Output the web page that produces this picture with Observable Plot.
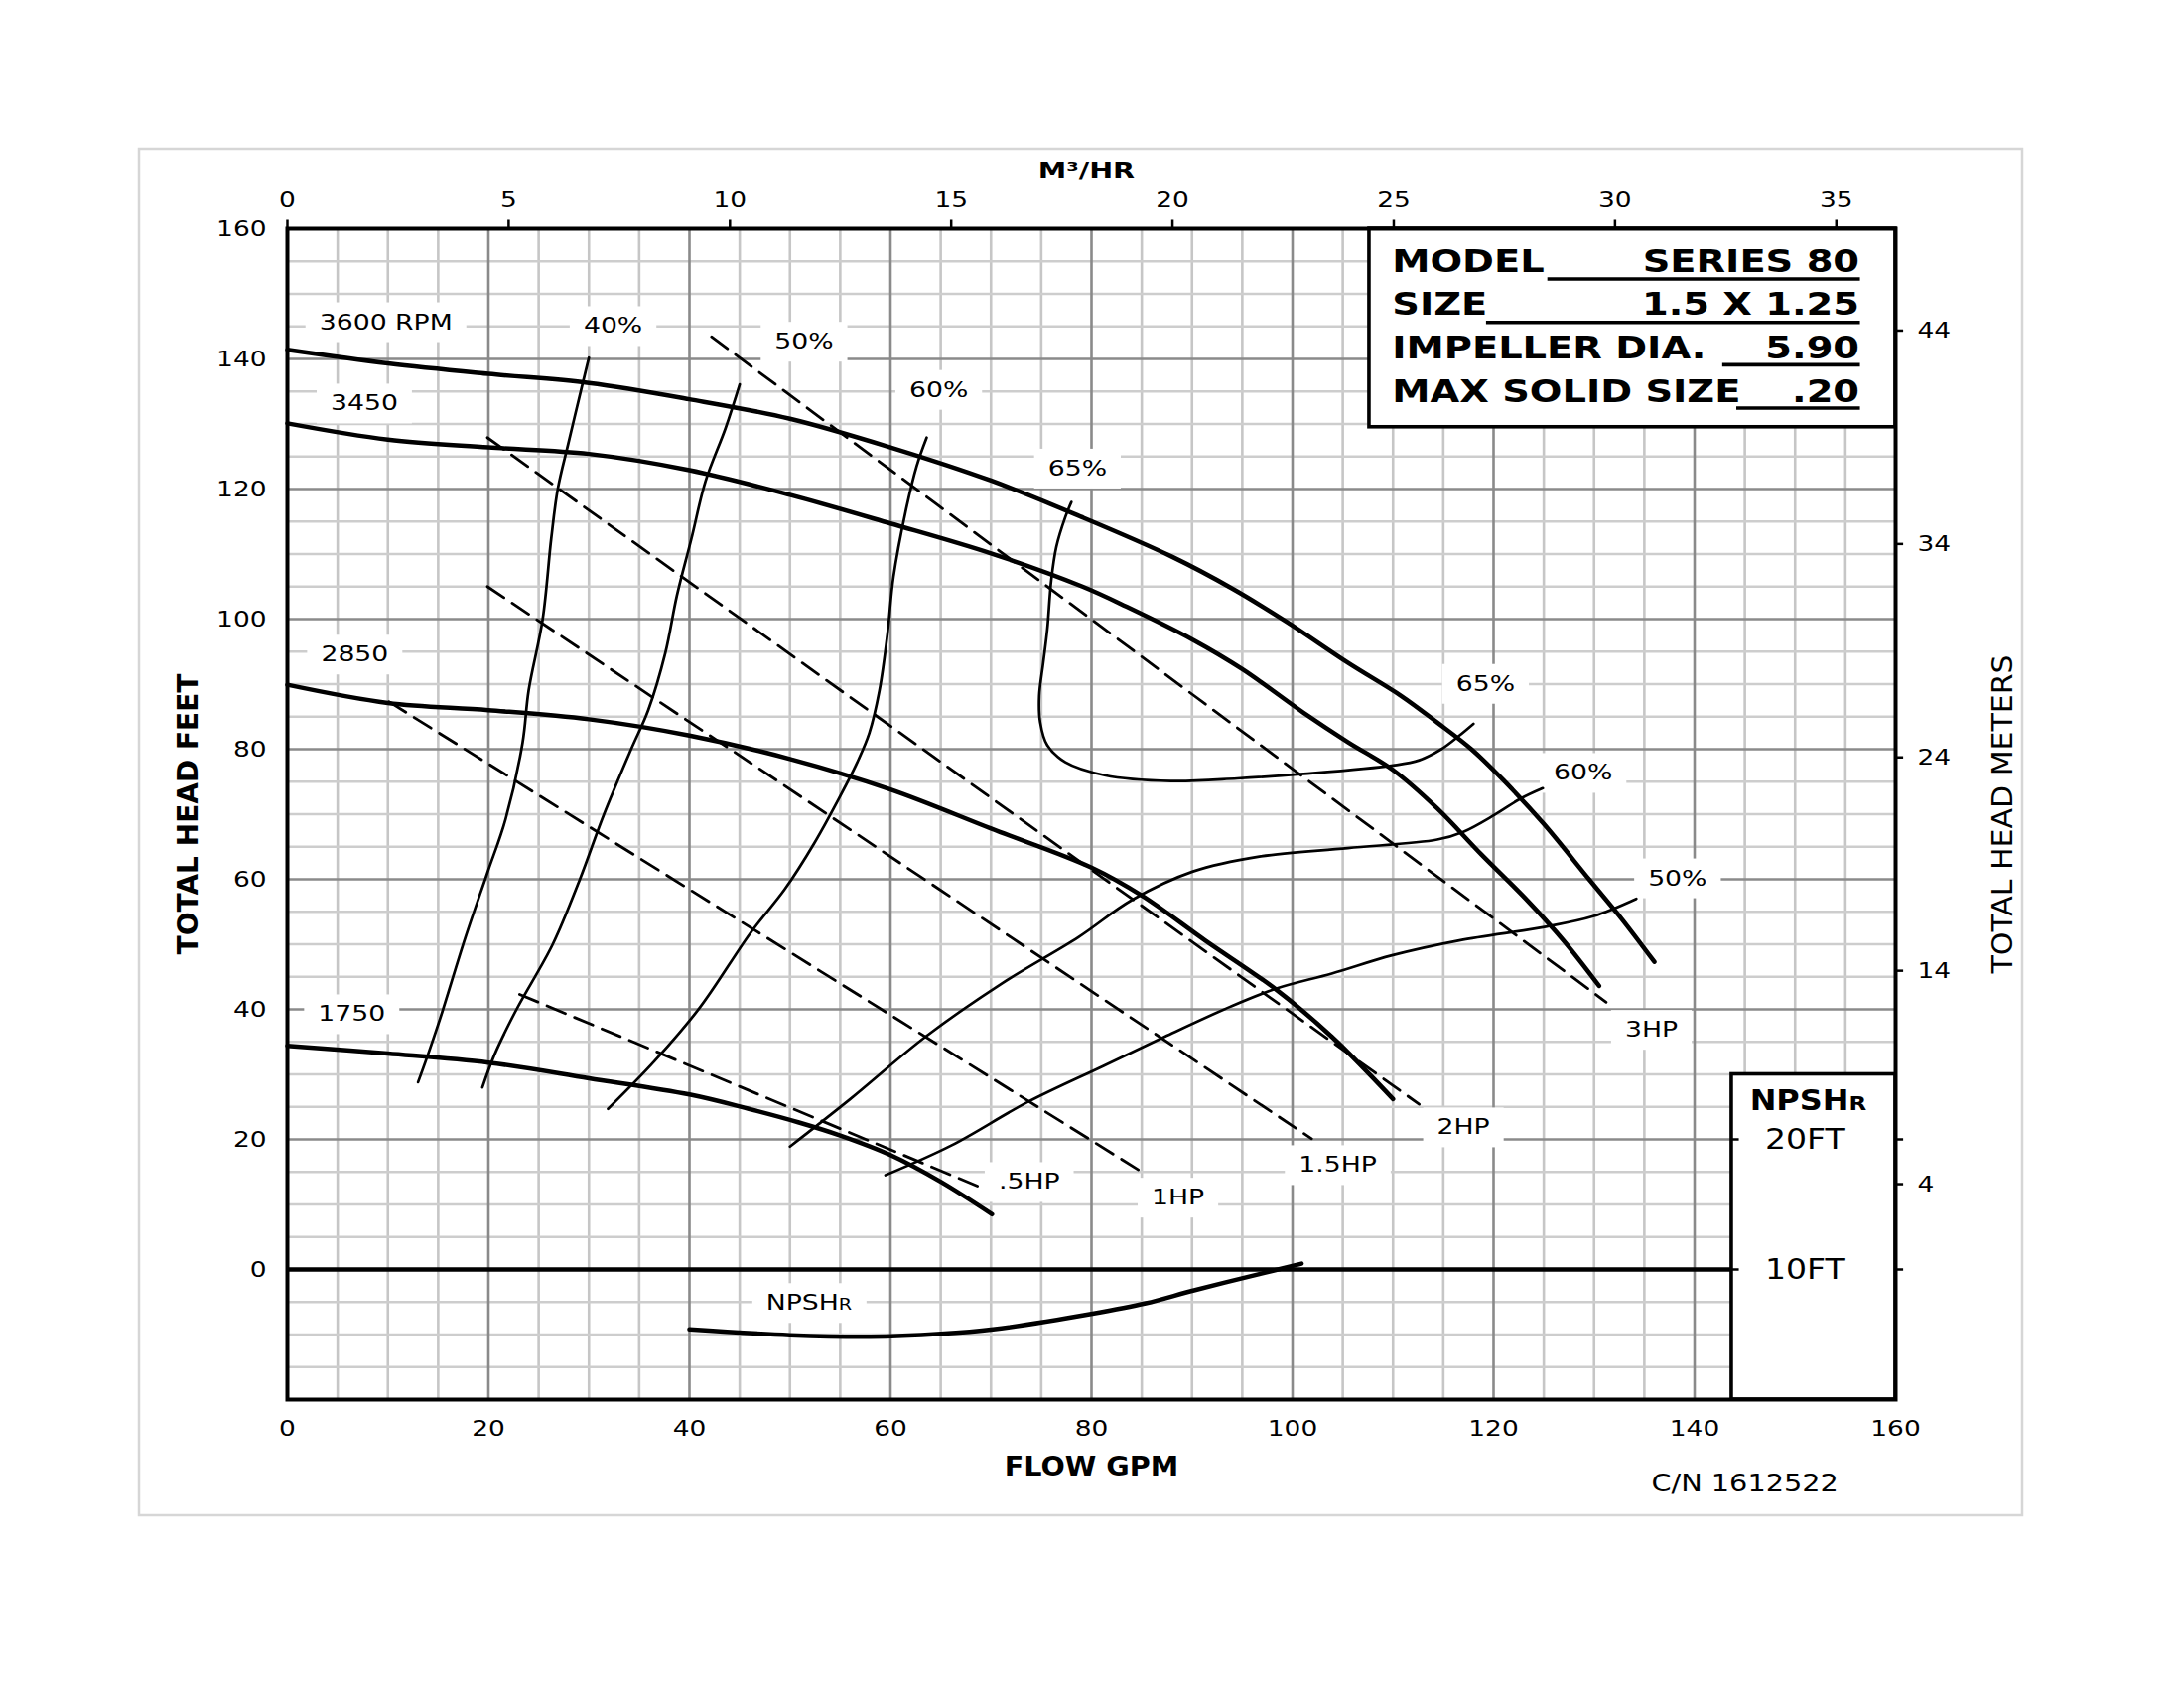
<!DOCTYPE html>
<html><head><meta charset="utf-8">
<script src="https://cdn.jsdelivr.net/npm/d3@7"></script>
<script src="https://cdn.jsdelivr.net/npm/@observablehq/plot@0.6"></script>
<style>html,body{margin:0;padding:0;background:#fff;} #chart{width:2200px;height:1700px;}</style>
</head><body><div id="chart"></div>
<script>
// ---- unit conversions (secondary axes)
const GPM_PER_M3H = 4.40287;
const FT_PER_M = 3.28084;

// ---- tick labels
const gpmTicks = [0,20,40,60,80,100,120,140,160];
const feetTicks = [0,20,40,60,80,100,120,140,160];
const m3hTicks = [0,5,10,15,20,25,30,35];
const meterTicks = [4,14,24,34,44];
const npshTicks = [{label:"20FT", npsh:20},{label:"10FT", npsh:10}];

// ---- head curves [GPM, feet]
const rpm3600 = [[0,141.4],[10,139.3],[20,137.7],[30,136.3],[40,133.8],[50,130.8],[60,126.4],[70,121.3],[79,115.7],[88,109.6],[94,104.7],[99.4,99.6],[105.5,93.3],[110.8,88.2],[114.4,84.1],[117.8,80],[121,75.2],[125,68.5],[129.5,60],[132.7,54],[136,47.3]];
const rpm3450 = [[0,130.1],[10,127.6],[20,126.4],[30,125.4],[40,122.9],[50,119.1],[60,114.7],[70,110.1],[79.1,105],[83.5,101.9],[90.1,96.8],[95,92.3],[101.1,85.6],[105.5,81.1],[110,76.8],[114.4,70.9],[118.8,63.8],[123.2,57],[127,50.5],[130.5,43.6]];
const rpm2850 = [[0,89.9],[10,87.1],[20,86.0],[30,84.6],[40,82.1],[50,78.5],[60,73.8],[70,67.8],[80,61.8],[85,57.5],[91.3,50.6],[98.4,43],[103.9,35.8],[110,26.2]];
const rpm1750 = [[0,34.4],[10,33.2],[20,31.8],[30,29.4],[40,26.9],[45.9,24.7],[50.9,22.6],[55,20.6],[60,17.6],[65,13.5],[70.1,8.5]];
const npshr = [[40,-9.2],[50,-10.1],[58,-10.35],[65,-9.9],[70.2,-9.2],[80.1,-6.8],[85.4,-5.2],[90.2,-3.2],[96.7,-0.7],[100.9,0.9]];

// ---- efficiency curves
const eff40 = [[30.0,140.2],[29.4,136.4],[27.95,127],[26.9,120],[26.25,112.4],[25.4,100],[24.0,89],[23.4,81],[21.7,69.2],[19.9,61],[17.7,51],[15.2,38.6],[13.75,32],[13.0,28.8]];
const eff50 = [[45.0,136.1],[43.6,129.4],[41.6,121.2],[40.2,112.4],[38.75,103.6],[37.6,94.8],[35.9,86],[34.2,80],[31.5,70],[29.1,60],[26.4,50],[22.8,40],[20.6,33],[19.4,28]];
const eff60 = [[63.6,127.9],[62.6,123.5],[61.5,116.5],[60.3,106.5],[59.7,97.7],[58.9,89],[57.9,82.5],[56.7,78],[54.9,72.5],[52.4,65.5],[49.5,58.5],[46.1,51.8],[41,40.2],[36.5,32],[31.9,24.7]];
const eff65 = [[78,118],[77.4,115.7],[76.5,111.1],[76,106],[75.6,98.4],[75.2,93.3],[74.8,88.2],[74.9,84.1],[75.6,80.6],[77.4,78],[81.3,76],[87.9,75.1],[94.5,75.5],[101.1,76.2],[110,77.5],[112.6,78.3],[114.8,80],[116.6,82.1],[118,83.9]];
const eff60r = [[50,18.9],[56,26.2],[63.5,35.8],[71.1,44],[78.7,51.1],[84,56.8],[90.1,61.2],[96.7,63.5],[105.5,64.8],[114.4,66.1],[117,67.3],[120.1,69.9],[122.7,72.4],[124.9,74]];
const eff50r = [[59.5,14.5],[66.1,19.1],[73.6,25.7],[81.2,31.3],[87.3,35.8],[93.8,40.4],[98.4,43.2],[103.9,45.5],[109.9,48.3],[116.6,50.6],[125.2,52.7],[129.9,54.3],[134.2,57]];

// ---- horsepower lines
const hp05 = [[23.1,42.3],[69.3,12.4]];
const hp1  = [[10.1,87.3],[85.0,15.0]];
const hp15 = [[19.9,105.0],[101.9,20.1]];
const hp2  = [[19.9,127.9],[112.6,25.4]];
const hp3  = [[42.2,143.4],[131.2,41.1]];

// ---- curve labels (annotation anchors)
const curveLabels = [
  {text:"3600 RPM", x:9.8, y:145.6},
  {text:"40%", x:32.4, y:145.0},
  {text:"50%", x:51.4, y:142.6},
  {text:"60%", x:64.8, y:135.2},
  {text:"3450", x:7.65, y:133.1},
  {text:"65%", x:78.6, y:123.1},
  {text:"2850", x:6.7, y:94.5},
  {text:"65%", x:119.2, y:90.0},
  {text:"60%", x:128.9, y:76.3},
  {text:"50%", x:138.3, y:60.1},
  {text:"3HP", x:135.7, y:36.8},
  {text:"2HP", x:117.0, y:21.8},
  {text:"1.5HP", x:104.5, y:16.0},
  {text:"1HP", x:88.6, y:11.0},
  {text:".5HP", x:73.8, y:13.4},
  {text:"1750", x:6.4, y:39.2},
  {text:"NPSHR", x:51.9, y:-5.2}
];

// ---- model block
const modelLabels = ["MODEL","SIZE","IMPELLER DIA.","MAX SOLID SIZE"];
const modelValues = ["SERIES 80","1.5 X 1.25","5.90",".20"];

// grid positions
const gridMinorX = d3.range(5,160,5).filter(v => v % 20 !== 0);
const gridMajorX = d3.range(20,160,20);
const gridMinorY = d3.range(-15,160,5).filter(v => v % 20 !== 0);
const gridMajorY = d3.range(20,160,20).concat([-20]);

const rowY = [154.85, 148.3, 141.7, 135.0];
const ulY = [152.3, 145.6, 139.1, 132.45];
const ulX1 = [125.4, 119.3, 142.8, 144.2];

const thick = {curve:"catmull-rom", stroke:"#000", strokeWidth:4.5};
const thin = {curve:"catmull-rom", stroke:"#000", strokeWidth:2.7};
const dash = {stroke:"#000", strokeWidth:2.8, strokeDasharray:"20,10"};
const tag = name => ({ariaDescription:name, ariaLabel:() => name, lineAnchor:"middle"});

const svg = Plot.plot({
  width:2200, height:1700,
  marginLeft:289, marginRight:291, marginTop:230, marginBottom:291,
  x:{domain:[0,160], axis:null},
  y:{domain:[-20,160], axis:null},
  style:{fontFamily:"DejaVu Sans", background:"#fff", color:"#000"},
  marks:[
    Plot.ruleX(gridMinorX, {stroke:"#c6c6c6", strokeWidth:2.6}),
    Plot.ruleY(gridMinorY, {stroke:"#cdcdcd", strokeWidth:2.6}),
    Plot.ruleX(gridMajorX, {stroke:"#8a8a8a", strokeWidth:2.6}),
    Plot.ruleY(gridMajorY, {stroke:"#8a8a8a", strokeWidth:2.6}),
    // boxes
    Plot.rect([0], {x1:()=>107.65, x2:()=>160, y1:()=>129.5, y2:()=>160, fill:"#fff", stroke:"#000", strokeWidth:3.6}),
    Plot.rect([0], {x1:()=>143.7, x2:()=>160, y1:()=>-20, y2:()=>30, fill:"#fff", stroke:"#000", strokeWidth:3.6}),
    // curve labels
    Plot.text(curveLabels, {x:"x", y:"y", text:"text", fontSize:21, fill:"#000", ...tag("curve-labels")}),
    // hp lines
    Plot.line(hp05, dash), Plot.line(hp1, dash), Plot.line(hp15, dash), Plot.line(hp2, dash), Plot.line(hp3, dash),
    // efficiency
    Plot.line(eff40, thin), Plot.line(eff50, thin), Plot.line(eff60, thin), Plot.line(eff65, thin),
    Plot.line(eff60r, thin), Plot.line(eff50r, thin),
    // head curves
    Plot.line(rpm3600, thick), Plot.line(rpm3450, thick), Plot.line(rpm2850, thick), Plot.line(rpm1750, thick),
    Plot.line(npshr, thick),
    Plot.ruleY([0], {x1:0, x2:143.7, stroke:"#000", strokeWidth:4.5}),
    Plot.frame({stroke:"#000", strokeWidth:4}),
    // model text
    Plot.text(modelLabels, {x:()=>109.9, y:(d,i)=>rowY[i], text:d=>d, textAnchor:"start", fontWeight:"bold", fontSize:32, ...tag("model-text")}),
    Plot.text(modelValues, {x:()=>156.4, y:(d,i)=>rowY[i], text:d=>d, textAnchor:"end", fontWeight:"bold", fontSize:32, ...tag("model-text")}),
    Plot.ruleY(modelLabels, {y:(d,i)=>ulY[i], x1:(d,i)=>ulX1[i], x2:()=>156.5, stroke:"#000", strokeWidth:3.6}),
    // npsh box
    Plot.text(["NPSHR"], {x:()=>151.3, y:()=>25.8, fontWeight:"bold", fontSize:28, ...tag("npsh-text")}),
    Plot.text(npshTicks, {x:()=>151.0, y:d=>(d.npsh-10)*2, text:"label", fontSize:29, ...tag("npsh-text")}),
    Plot.ruleY(npshTicks, {y:d=>(d.npsh-10)*2, x1:()=>143.7, x2:()=>144.45, stroke:"#000", strokeWidth:2.5}),
    Plot.ruleY(npshTicks, {y:d=>(d.npsh-10)*2, x1:()=>160, x2:()=>160.8, stroke:"#000", strokeWidth:2.5}),
    // axes ticks
    Plot.ruleX(m3hTicks, {x:d=>d*GPM_PER_M3H, y1:()=>160, y2:()=>161.3, stroke:"#000", strokeWidth:2.5}),
    Plot.ruleY(meterTicks, {y:d=>d*FT_PER_M, x1:()=>160, x2:()=>160.8, stroke:"#000", strokeWidth:2.5}),
    Plot.text(m3hTicks, {x:d=>d*GPM_PER_M3H, text:d=>String(d), frameAnchor:"top", dy:-30, fontSize:22, ...tag("tick-labels")}),
    Plot.text(feetTicks, {y:d=>d, text:d=>String(d), frameAnchor:"left", textAnchor:"end", dx:-21, fontSize:22, ...tag("tick-labels")}),
    Plot.text(gpmTicks, {x:d=>d, text:d=>String(d), frameAnchor:"bottom", dy:29, fontSize:22, ...tag("tick-labels")}),
    Plot.text(meterTicks, {y:d=>d*FT_PER_M, text:d=>String(d), frameAnchor:"right", textAnchor:"start", dx:22, fontSize:22, ...tag("tick-labels")}),
    // titles
    Plot.text(["M³/HR"], {x:()=>79.5, frameAnchor:"top", dy:-59, fontWeight:"bold", fontSize:22, ...tag("title-m3")}),
    Plot.text(["FLOW GPM"], {x:()=>80, frameAnchor:"bottom", dy:68, fontWeight:"bold", fontSize:26, ...tag("title-flow")}),
    Plot.text(["C/N 1612522"], {x:()=>145, frameAnchor:"bottom", dy:84, fontSize:25, ...tag("title-cn")}),
    Plot.text(["TOTAL HEAD FEET"], {y:()=>70, frameAnchor:"left", dx:-99, rotate:-90, textAnchor:"middle", fontWeight:"bold", fontSize:28, ...tag("title-feet")}),
    Plot.text(["TOTAL HEAD METERS"], {y:()=>70, frameAnchor:"right", dx:109, rotate:-90, textAnchor:"middle", fontSize:28, ...tag("title-meters")})
  ]
});
document.getElementById("chart").append(svg);

const NS = "http://www.w3.org/2000/svg";
const texts = name => Array.from(new Set([
  ...svg.querySelectorAll(`g[aria-description="${name}"] text`),
  ...svg.querySelectorAll(`text[aria-label="${name}"]`)
]));
// small-cap R in NPSHR
svg.querySelectorAll("text").forEach(t => {
  if (t.textContent === "NPSHR") {
    t.textContent = "NPSH";
    const ts = document.createElementNS(NS, "tspan");
    ts.setAttribute("font-size", "0.72em");
    ts.textContent = "R";
    t.appendChild(ts);
  }
});
// wide lettering of the original
function stretch(name, f) {
  texts(name).forEach(t => {
    const L = t.getComputedTextLength();
    if (L > 0) { t.setAttribute("textLength", (L*f).toFixed(1)); t.setAttribute("lengthAdjust", "spacingAndGlyphs"); }
  });
}
stretch("tick-labels", 1.2);
stretch("curve-labels", 1.27);
stretch("model-text", 1.2);
stretch("npsh-text", 1.14);
stretch("title-m3", 1.3);
stretch("title-flow", 1.1);
stretch("title-cn", 1.15);
stretch("title-meters", 1.07);
// white boxes behind curve labels
texts("curve-labels").forEach(t => {
  const b = t.getBBox();
  const r = document.createElementNS(NS, "rect");
  r.setAttribute("x", b.x - 14); r.setAttribute("y", b.y - 8);
  r.setAttribute("width", b.width + 28); r.setAttribute("height", b.height + 16);
  r.setAttribute("fill", "#fff");
  const tr = t.getAttribute("transform"); if (tr) r.setAttribute("transform", tr);
  t.parentNode.insertBefore(r, t);
});
// outer light border
const border = document.createElementNS(NS, "rect");
border.setAttribute("x", 140); border.setAttribute("y", 150);
border.setAttribute("width", 1897); border.setAttribute("height", 1376);
border.setAttribute("fill", "none"); border.setAttribute("stroke", "#d6d6d6"); border.setAttribute("stroke-width", 2.5);
svg.appendChild(border);
</script>
</body></html>
